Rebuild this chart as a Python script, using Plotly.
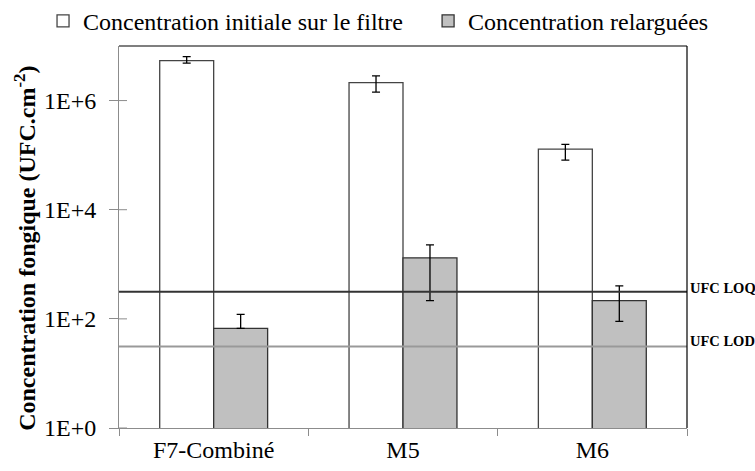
import plotly.graph_objects as go

# Fungal concentration per filter type (UFC.cm-2)
categories = ["F7-Combiné", "M5", "M6"]

initial_values = [5.4e6, 2.14e6, 1.29e5]
initial_err_plus = [1.0e6, 0.70e6, 0.29e5]
initial_err_minus = [0.56e6, 0.71e6, 0.48e5]

released_values = [67, 1315, 216]
released_err_plus = [54, 960, 185]
released_err_minus = [0, 1100, 126]

# Quantification / detection limits
UFC_LOQ = 313
UFC_LOD = 31

y_tickvals = [1, 1e2, 1e4, 1e6]
y_ticktext = ["1E+0", "1E+2", "1E+4", "1E+6"]

SERIF = "Liberation Serif, Times New Roman, serif"
AXIS_GREY = "#8c8c8c"

fig = go.Figure()

fig.add_trace(go.Bar(
    name="Concentration initiale sur le filtre",
    x=categories, y=initial_values,
    marker=dict(color="white", line=dict(color="#444444", width=1.3)),
    error_y=dict(type="data", symmetric=False,
                 array=initial_err_plus, arrayminus=initial_err_minus,
                 color="black", thickness=1.3, width=4),
    legend="legend",
))
fig.add_trace(go.Bar(
    name="Concentration relarguées",
    x=categories, y=released_values,
    marker=dict(color="#c0c0c0", line=dict(color="#333333", width=1.3)),
    error_y=dict(type="data", symmetric=False,
                 array=released_err_plus, arrayminus=released_err_minus,
                 color="black", thickness=1.3, width=4),
    legend="legend2",
))

shapes = []
# LOQ / LOD horizontal reference lines
shapes.append(dict(type="line", xref="paper", yref="y", x0=0, x1=1,
                   y0=UFC_LOQ, y1=UFC_LOQ, line=dict(color="#333333", width=2)))
shapes.append(dict(type="line", xref="paper", yref="y", x0=0, x1=1,
                   y0=UFC_LOD, y1=UFC_LOD, line=dict(color="#999999", width=2)))
# plot frame: top and right edges
shapes.append(dict(type="line", xref="paper", yref="paper", x0=0, x1=1, y0=1, y1=1,
                   line=dict(color="black", width=1.2)))
shapes.append(dict(type="line", xref="paper", yref="paper", x0=1, x1=1, y0=0, y1=1,
                   line=dict(color="black", width=1.2)))
# inner half of the crossing y ticks
for v in y_tickvals:
    shapes.append(dict(type="line", xref="paper", yref="y", xsizemode="pixel",
                       xanchor=0, x0=0, x1=8, y0=v, y1=v,
                       line=dict(color=AXIS_GREY, width=1)))

annotations = [
    dict(text="<b>UFC LOQ</b>", xref="paper", yref="y", x=1, y=2.4957,
         xanchor="left", yanchor="middle", xshift=1, yshift=4, showarrow=False,
         font=dict(family=SERIF, size=14.5, color="black")),
    dict(text="<b>UFC LOD</b>", xref="paper", yref="y", x=1, y=1.4914,
         xanchor="left", yanchor="middle", xshift=1, yshift=6, showarrow=False,
         font=dict(family=SERIF, size=14.5, color="black")),
    dict(text="<b>Concentration fongique (UFC.cm<sup>-2</sup>)</b>",
         xref="paper", yref="paper", x=0, y=0.469, xanchor="center", yanchor="middle",
         xshift=-94, textangle=-90, showarrow=False,
         font=dict(family=SERIF, size=24, color="black")),
]

legend_style = dict(orientation="h", xref="container", yref="container",
                    xanchor="left", y=0.955, yanchor="middle",
                    font=dict(family=SERIF, size=24), bgcolor="rgba(0,0,0,0)",
                    itemwidth=30)

fig.update_layout(
    width=755, height=471,
    margin=dict(l=119, r=68, t=46, b=43, autoexpand=False),
    paper_bgcolor="white", plot_bgcolor="white",
    font=dict(family=SERIF, size=24, color="black"),
    barmode="group", bargap=0.43, bargroupgap=0,
    showlegend=True,
    legend=dict(x=0.057, **legend_style),
    legend2=dict(x=0.567, **legend_style),
    shapes=shapes,
    annotations=annotations,
)

fig.update_xaxes(
    type="category", showline=True, linecolor=AXIS_GREY, linewidth=1,
    ticks="outside", tickson="boundaries", ticklen=7, tickcolor=AXIS_GREY,
    showgrid=False, zeroline=False,
    tickfont=dict(family=SERIF, size=24, color="black"),
)
fig.update_yaxes(
    type="log", range=[0, 7], showline=True, linecolor=AXIS_GREY, linewidth=1,
    tickvals=y_tickvals, ticktext=y_ticktext,
    ticks="outside", ticklen=9, tickcolor=AXIS_GREY,
    showgrid=False, zeroline=False,
    tickfont=dict(family=SERIF, size=24, color="black"),
    ticklabelstandoff=8,
)

fig.write_html("out.html")
